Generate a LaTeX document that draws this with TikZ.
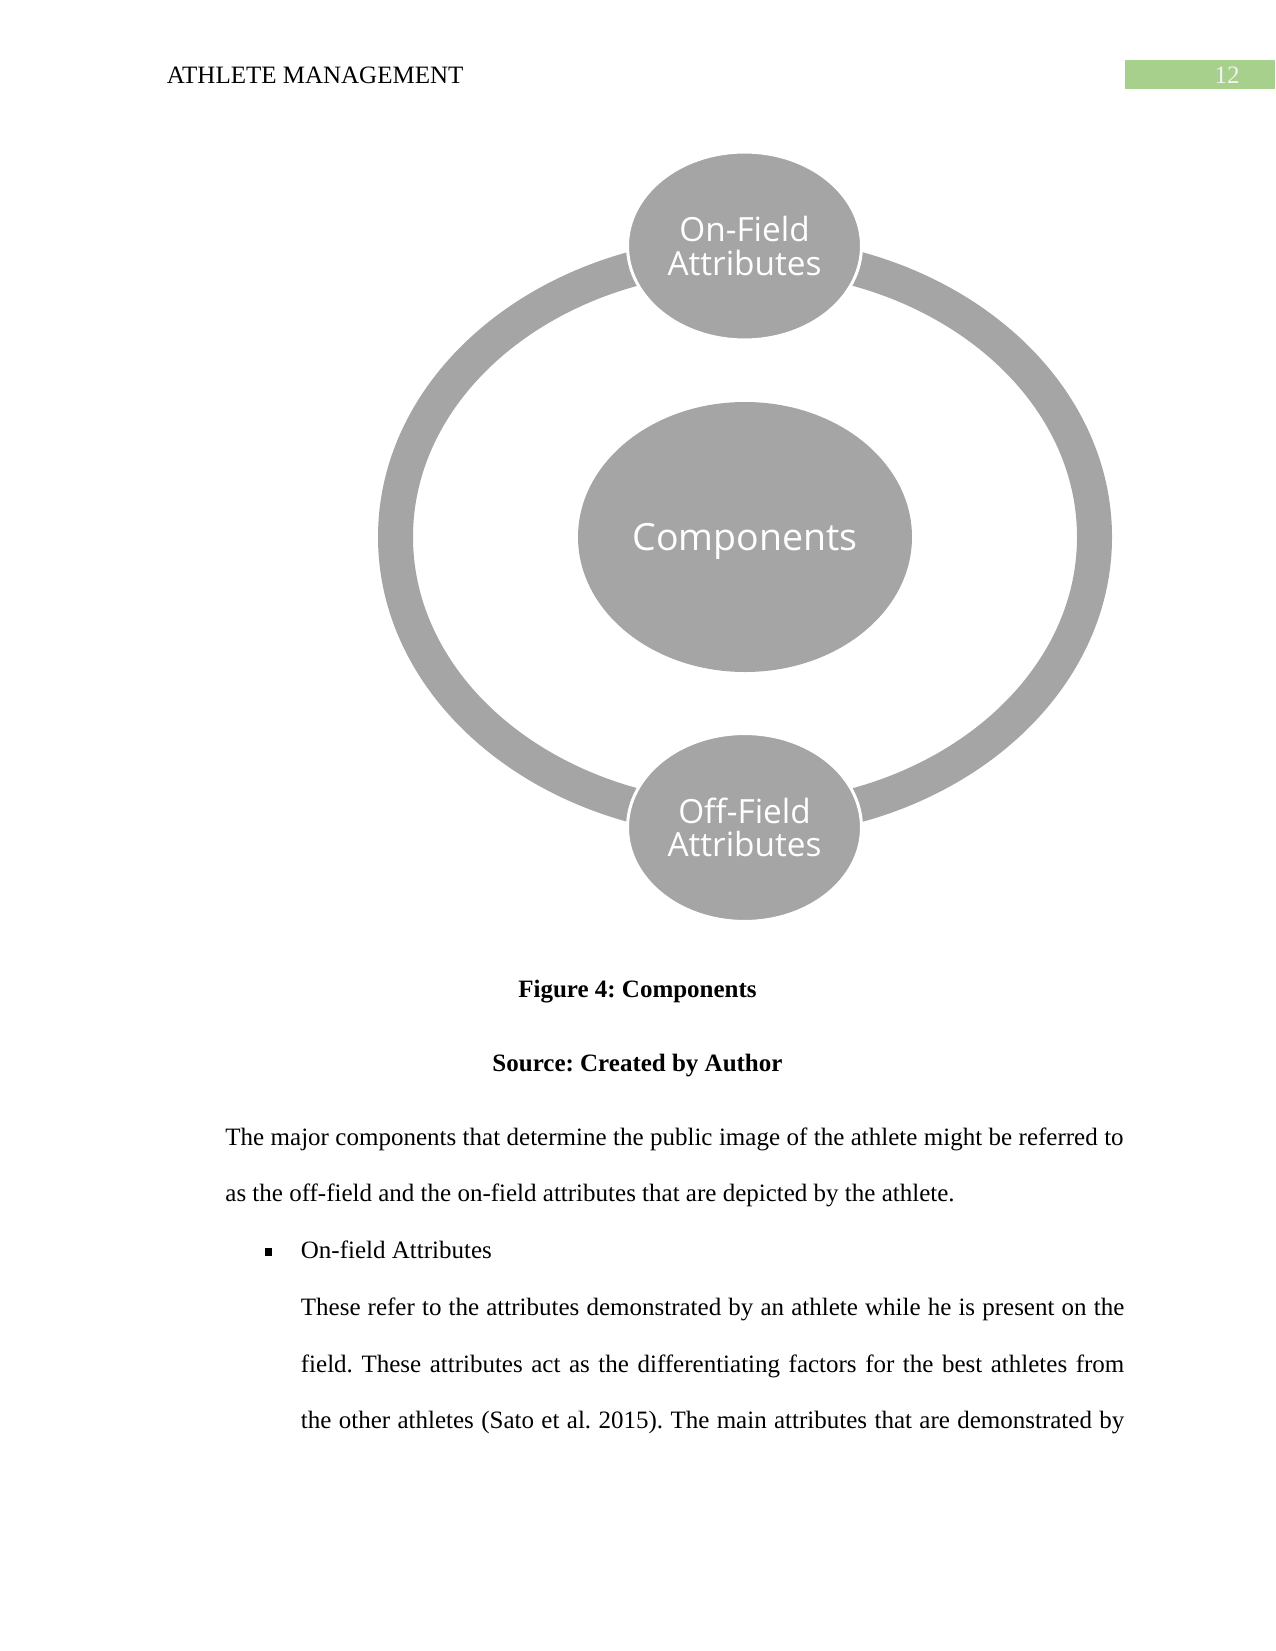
\documentclass[tikz,border=0pt]{standalone}
\usepackage{fontspec}
\setmainfont{Liberation Serif}
\newfontfamily\diagfont{Open Sans}
\usetikzlibrary{shapes.geometric}
\definecolor{ringgrey}{HTML}{A5A5A5}
\definecolor{hdrgreen}{HTML}{A8D08D}
\definecolor{hdrtext}{HTML}{F2F2F2}
\frenchspacing
\begin{document}
\frenchspacing
\begin{tikzpicture}[x=0.48pt,y=-0.48pt,
  bubble/.style={ellipse, fill=ringgrey, draw=white, line width=1.44pt, inner sep=0pt,
     text=white, align=center, font=\diagfont\fontsize{16}{16.2}\selectfont},
  bodytext/.style={anchor=base west, inner sep=0pt, font=\fontsize{12}{14}\selectfont},
  captext/.style={anchor=base, inner sep=0pt, font=\bfseries\fontsize{12}{14}\selectfont}]
\useasboundingbox (0,0) rectangle (1275,1651);
\fill[white] (0,0) rectangle (1275,1651);
% header
\node[bodytext] (hdr) at (166.5,83.3) {ATHLETE MANAGEMENT};
\fill[hdrgreen] (1125,60) rectangle (1275,89);
\node[anchor=base, inner sep=0pt, text=hdrtext, font=\fontsize{12}{14}\selectfont] (pg) at (1227,83.3) {12};
% ring
\draw[ringgrey, line width=16.8pt] (745,537) ellipse [x radius=349.5, y radius=283];
% bubbles
\node[bubble, minimum width=112.3pt, minimum height=90.2pt] (on) at (744.5,246) {On-Field\\Attributes};
\node[bubble, minimum width=112.3pt, minimum height=90.2pt] (off) at (744.5,827.5) {Off-Field\\Attributes};
\node[bubble, draw=none, minimum width=160.3pt, minimum height=129.6pt, text depth=0pt,
      font=\diagfont\fontsize{18}{20}\selectfont] (comp) at (745,537) {Components};
% captions
\node[captext] (fig) at (637.5,997.3) {Figure 4: Components};
\node[captext] (src) at (637.5,1071) {Source: Created by Author};
% paragraph
\node[bodytext] (l1) at (225,1145) {\makebox[431.1pt][s]{The major components that determine the public image of the athlete might be referred to}};
\node[bodytext] (l2) at (225,1201.8) {as the off-field and the on-field attributes that are depicted by the athlete.};
\node[fill=black, inner sep=0pt, minimum size=3.6pt] (bul) at (268.7,1251.8) {};
\node[bodytext] (l3) at (300.5,1258.5) {On-field Attributes};
\node[bodytext] (l4) at (300.5,1315.3) {\makebox[395.2pt][s]{These refer to the attributes demonstrated by an athlete while he is present on the}};
\node[bodytext] (l5) at (300.5,1372) {\makebox[395.2pt][s]{field. These attributes act as the differentiating factors for the best athletes from}};
\node[bodytext] (l6) at (300.5,1428.8) {\makebox[395.2pt][s]{the other athletes (Sato et al. 2015). The main attributes that are demonstrated by}};
\end{tikzpicture}
\end{document}
